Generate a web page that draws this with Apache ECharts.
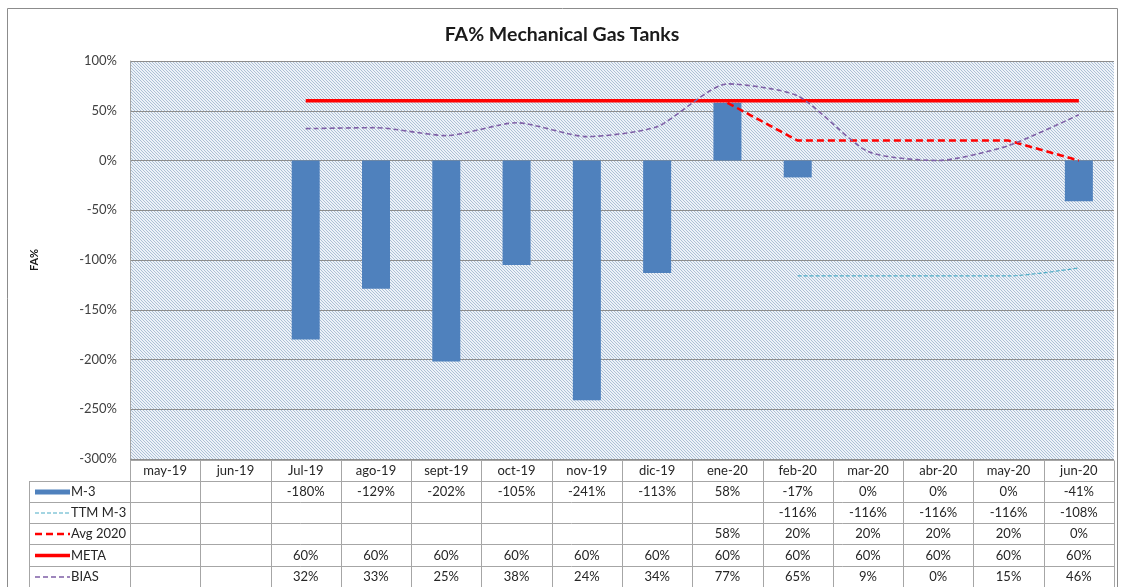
<!DOCTYPE html>
<html><head><meta charset="utf-8">
<script src="https://cdn.jsdelivr.net/npm/echarts@6/dist/echarts.min.js"></script>
<style>html,body{margin:0;padding:0;background:#fff}#c{width:1124px;height:587px}</style>
</head><body><div id="c"></div>
<script>
const categories = ['may-19','jun-19','Jul-19','ago-19','sept-19','oct-19','nov-19','dic-19','ene-20','feb-20','mar-20','abr-20','may-20','jun-20'];
const m3 = [null,null,-180,-129,-202,-105,-241,-113,58,-17,0,0,0,-41];
const ttm = [null,null,null,null,null,null,null,null,null,-116,-116,-116,-116,-108];
const avg2020 = [null,null,null,null,null,null,null,null,58,20,20,20,20,0];
const meta = [null,null,60,60,60,60,60,60,60,60,60,60,60,60];
const bias = [null,null,32,33,25,38,24,34,77,65,9,0,15,46];
const seriesNames = ['M-3','TTM M-3','Avg 2020','META','BIAS'];
const yMin = -300, yMax = 100, yStep = 50;

const FONT = 'Lato';
// hatch pattern
const tile = document.createElement('canvas');
tile.width = 3; tile.height = 3;
const tc = tile.getContext('2d');
tc.fillStyle = '#edf2f8'; tc.fillRect(0,0,3,3);
tc.fillStyle = '#adc0d6';
for (let i=0;i<3;i++) tc.fillRect(i,i,1,1);

const chart = echarts.init(document.getElementById('c'), null, {renderer:'canvas'});
const GL = 130, GR = 10, GT = 61, GB = 128;
const option = {
  animation:false,
  textStyle:{fontFamily:FONT},
  title:{text:'FA% Mechanical Gas Tanks', left:'center', top:20,
    textStyle:{fontFamily:FONT,fontSize:19.5,fontWeight:'bold',color:'#1a1a1a'}},
  grid:{left:GL,right:GR,top:GT,bottom:GB,show:true,
    backgroundColor:{image:tile,repeat:'repeat'},borderWidth:0},
  xAxis:{type:'category',data:categories,position:'bottom',
    axisLine:{show:false},axisTick:{show:false},
    axisLabel:{fontFamily:FONT,fontSize:13,color:'#262626',margin:5}},
  yAxis:{type:'value',min:yMin,max:yMax,interval:yStep,
    name:'FA%',nameLocation:'middle',nameGap:90,nameRotate:90,
    nameTextStyle:{fontFamily:FONT,fontSize:11,fontWeight:'bold',color:'#1a1a1a'},
    axisLine:{show:true,lineStyle:{color:'#a6a6a6'}},axisTick:{show:false},
    axisLabel:{formatter:'{value}%',fontFamily:FONT,fontSize:13,color:'#404040',margin:13},
    splitLine:{lineStyle:{color:'#8c8c8c',width:1}}},
  series:[
    {name:seriesNames[0],type:'bar',data:m3,barWidth:28,itemStyle:{color:'#4f81bd'},z:2},
    {name:seriesNames[1],type:'line',data:ttm,smooth:0.25,symbol:'none',
      lineStyle:{color:'#4bacc6',width:1.2,type:[4,2]},z:3},
    {name:seriesNames[2],type:'line',data:avg2020,symbol:'none',
      lineStyle:{color:'#ff0000',width:2.5,type:[7,4]},z:4},
    {name:seriesNames[3],type:'line',data:meta,symbol:'none',
      lineStyle:{color:'#ff0000',width:3.5},z:5},
    {name:seriesNames[4],type:'line',data:bias,smooth:0.22,symbol:'none',
      lineStyle:{color:'#7f5fa6',width:1.6,type:[5,3]},z:6}
  ]
};
chart.setOption(option);

// data table built from the same arrays, positioned from the axis scale
const allData = [m3, ttm, avg2020, meta, bias];
const W = 1124;
const plotL = GL, plotR = W - GR, plotB = 587 - GB;
const colW = (plotR - plotL) / categories.length;
const tableL = 29, rowH = 21.2;
const els = [];
const lc = '#a6a6a6';
function hline(x1,x2,y){els.push({type:'line',shape:{x1,y1:y,x2,y2:y},style:{stroke:lc,lineWidth:1},z:100});}
function vline(x,y1,y2){els.push({type:'line',shape:{x1:x,y1,x2:x,y2},style:{stroke:lc,lineWidth:1},z:100});}
const yTop = plotB + 0.5;
const rowsY = [];
for (let r=0;r<=6;r++) rowsY.push(Math.round(yTop + r*rowH)+0.5);
hline(plotL, plotR, rowsY[0]);
for (let r=1;r<=6;r++) hline(tableL, plotR, rowsY[r]);
vline(tableL+0.5, rowsY[1], rowsY[6]);
for (let i=0;i<=categories.length;i++){
  const x = Math.round(plotL + i*colW)+0.5;
  vline(x, rowsY[0], rowsY[6]);
}
for (let s=0;s<allData.length;s++){
  const yc = (rowsY[s+1]+rowsY[s+2])/2;
  allData[s].forEach((v,i)=>{
    if (v===null) return;
    const p = chart.convertToPixel({xAxisIndex:0}, categories[i]);
    els.push({type:'text',x:p,y:yc,style:{text:v+'%',fill:'#262626',font:'13px '+FONT,align:'center',verticalAlign:'middle'},z:101});
  });
  // legend key
  const kx1 = 35, kx2 = 70;
  if (s===0) els.push({type:'rect',shape:{x:kx1,y:yc-2.5,width:kx2-kx1,height:5},style:{fill:'#4f81bd'},z:101});
  else {
    const ls = option.series[s].lineStyle;
    els.push({type:'line',shape:{x1:kx1,y1:yc,x2:kx2,y2:yc},style:{stroke:ls.color,lineWidth:ls.width,lineDash:Array.isArray(ls.type)?ls.type:null},z:101});
  }
  els.push({type:'text',x:71,y:yc,style:{text:seriesNames[s],fill:'#262626',font:'13px '+FONT,align:'left',verticalAlign:'middle'},z:101});
}
// outer chart border
els.push({type:'rect',shape:{x:7.5,y:8.5,width:1110,height:600},style:{fill:null,stroke:'#8c8c8c',lineWidth:1},z:99});
chart.setOption({graphic:{elements:els}});
</script></body></html>
